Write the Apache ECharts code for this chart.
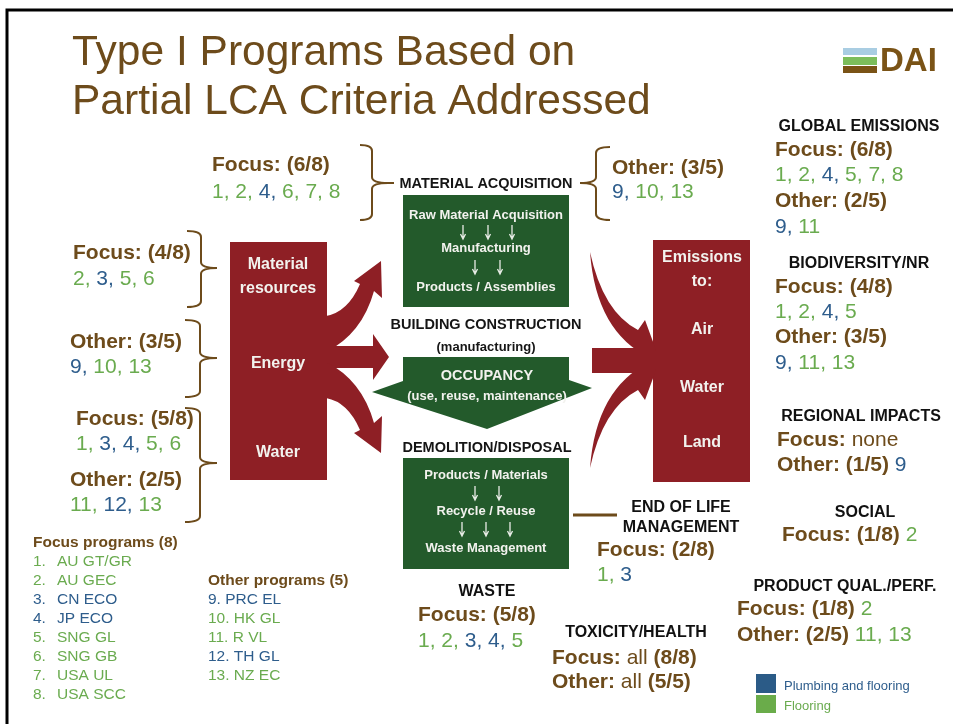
<!DOCTYPE html>
<html>
<head>
<meta charset="utf-8">
<script src="https://cdn.jsdelivr.net/npm/echarts/dist/echarts.min.js"></script>
<style>
html,body{margin:0;padding:0;background:#fff;}
#chart{width:953px;height:724px;}
</style>
</head>
<body>
<div id="chart"></div>
<script>
// ---------------- DATA ----------------
const titleLines = ['Type I Programs Based on', 'Partial LCA Criteria Addressed'];
const focusPrograms = ['AU GT/GR', 'AU GEC', 'CN ECO', 'JP ECO', 'SNG GL', 'SNG GB', 'USA UL', 'USA SCC'];
const otherPrograms = ['PRC EL', 'HK GL', 'R VL', 'TH GL', 'NZ EC'];
const plumbingIds = [3, 4, 9, 12];            // "Plumbing and flooring"; all others "Flooring"
const legendLabels = ['Plumbing and flooring', 'Flooring'];
const nFocus = focusPrograms.length;        // 8
const nOther = otherPrograms.length;        // 5

const materialAcqFocus = [1, 2, 4, 6, 7, 8];
const materialAcqOther = [9, 10, 13];
const resourcesFocus = [2, 3, 5, 6];
const energyOther = [9, 10, 13];
const waterFocus = [1, 3, 4, 5, 6];
const waterOther = [11, 12, 13];
const waterOtherCount = 2;                    // as printed on the slide: "Other: (2/5)"
const globalEmFocus = [1, 2, 4, 5, 7, 8];
const globalEmOther = [9, 11];
const biodivFocus = [1, 2, 4, 5];
const biodivOther = [9, 11, 13];
const regionalFocus = [];
const regionalOther = [9];
const endOfLifeFocus = [1, 3];
const socialFocus = [2];
const productFocus = [2];
const productOther = [11, 13];
const wasteFocus = [1, 2, 3, 4, 5];
const toxicityFocus = [1, 2, 3, 4, 5, 6, 7, 8];
const toxicityOther = [9, 10, 11, 12, 13];

const stage1Lines = ['Raw Material Acquisition', 'Manufacturing', 'Products / Assemblies'];
const stage3Lines = ['Products / Materials', 'Recycle / Reuse', 'Waste Management'];
const inputLabels = ['Material', 'resources', 'Energy', 'Water'];
const outputLabels = ['Emissions', 'to:', 'Air', 'Water', 'Land'];

// ---------------- STYLE ----------------
const FF = '"Liberation Sans", Arial, Helvetica, sans-serif';
const BROWN = '#6d4b1b';
const GREEN = '#6aab4f';
const BLUE = '#2e5d8c';
const RED = '#8e1f25';
const DKGREEN = '#235a2b';
const NUM = 21;

// simple path shape (M, L, Q, Z commands)
const SimplePath = echarts.graphic.extendShape({
  shape: {d: ''},
  buildPath: function (ctx, shape) {
    const tk = String(shape.d).match(/[MLQZ]|-?\d+(\.\d+)?/g) || [];
    let i = 0, cmd = null;
    while (i < tk.length) {
      const t = tk[i];
      if (/[MLQZ]/.test(t)) { cmd = t; i++; if (cmd === 'Z') { ctx.closePath(); } continue; }
      if (cmd === 'M') { ctx.moveTo(+tk[i], +tk[i + 1]); i += 2; cmd = 'L'; }
      else if (cmd === 'L') { ctx.lineTo(+tk[i], +tk[i + 1]); i += 2; }
      else if (cmd === 'Q') { ctx.quadraticCurveTo(+tk[i], +tk[i + 1], +tk[i + 2], +tk[i + 3]); i += 4; }
      else { i++; }
    }
  }
});
echarts.graphic.registerShape('simplePath', SimplePath);

const rich = {
  b: {fill: BROWN, fontWeight: 'bold', fontSize: NUM, fontFamily: FF},
  n: {fill: BROWN, fontWeight: 'normal', fontSize: NUM, fontFamily: FF},
  p: {fill: BLUE, fontSize: NUM, fontFamily: FF},
  f: {fill: GREEN, fontSize: NUM, fontFamily: FF}
};
function cls(id) { return plumbingIds.indexOf(id) >= 0 ? 'p' : 'f'; }
function idsRich(ids) {
  return ids.map((id, i) => '{' + cls(id) + '|' + id + (i < ids.length - 1 ? ',' : '') + '}').join(' ');
}
function countLabel(kind, ids, count) {
  const c = count == null ? ids.length : count;
  return '{b|' + kind + ': (' + c + '/' + (kind === 'Focus' ? nFocus : nOther) + ')}';
}

const g = [];
function txt(x, y, text, font, fill, align, extra) {
  const st = Object.assign({text: text, font: font, fill: fill, align: align || 'left', verticalAlign: 'middle',
    textAlign: align || 'left', textVerticalAlign: 'middle'}, extra || {});
  g.push({type: 'text', x: x, y: y, z: 10, style: st});
}
function richTxt(x, y, text) {
  g.push({type: 'text', x: x, y: y, z: 10, style: {text: text, rich: rich, font: NUM + 'px ' + FF, fill: BROWN,
    align: 'left', verticalAlign: 'middle', textAlign: 'left', textVerticalAlign: 'middle'}});
}
function rect(x, y, w, h, fill, z) { g.push({type: 'rect', z: z || 1, shape: {x: x, y: y, width: w, height: h}, style: {fill: fill}}); }
function path(d, style, z) { g.push({type: 'simplePath', z: z || 2, shape: {d: d}, style: style}); }
function brace(x0, xs, xt, y0, ym, y1) {
  const r = 6;
  const d = 'M' + x0 + ' ' + y0 + ' Q' + xs + ' ' + y0 + ' ' + xs + ' ' + (y0 + r) +
    ' L' + xs + ' ' + (ym - r) + ' Q' + xs + ' ' + ym + ' ' + xt + ' ' + ym +
    ' Q' + xs + ' ' + ym + ' ' + xs + ' ' + (ym + r) +
    ' L' + xs + ' ' + (y1 - r) + ' Q' + xs + ' ' + y1 + ' ' + x0 + ' ' + y1;
  path(d, {fill: null, stroke: BROWN, lineWidth: 2});
}
function downArrow(x, y) {
  path('M' + x + ' ' + (y - 7) + ' L' + x + ' ' + (y + 6) + ' M' + (x - 2.5) + ' ' + (y + 2) + ' L' + x + ' ' + (y + 7) + ' L' + (x + 2.5) + ' ' + (y + 2),
    {fill: null, stroke: '#e8ece6', lineWidth: 1.3}, 5);
}

// frame
g.push({type: 'polyline', z: 0, shape: {points: [[7, 724], [7, 10], [953, 10]]}, style: {stroke: '#000', lineWidth: 3, fill: null}});

// title
txt(72, 53, titleLines[0], '42.5px ' + FF, BROWN);
txt(72, 102, titleLines[1], '42.5px ' + FF, BROWN);

// DAI logo
rect(843, 48, 34, 7, '#a9cde2');
rect(843, 57, 34, 8, '#7cbd5b');
rect(843, 66, 34, 7, '#7a5316');
txt(880, 62, 'DAI', 'bold 33px ' + FF, '#7a5316', 'left', {});

// ----- centre diagram -----
rect(403, 195, 166, 112, DKGREEN);
rect(403, 458, 166, 111, DKGREEN);
path('M403 357 L569 357 L569 380 L592 388 L487 429 L372 392 L403 381 Z', {fill: DKGREEN});

const W = '#f2f2ee';
const sb = 'bold 13px ' + FF;
txt(486, 215, stage1Lines[0], sb, W, 'center');
txt(486, 248, stage1Lines[1], sb, W, 'center');
txt(486, 287, stage1Lines[2], sb, W, 'center');
[463, 488, 512].forEach(x => downArrow(x, 232));
[475, 500].forEach(x => downArrow(x, 267));
txt(486, 475, stage3Lines[0], sb, W, 'center');
txt(486, 511, stage3Lines[1], sb, W, 'center');
txt(486, 548, stage3Lines[2], sb, W, 'center');
[475, 499].forEach(x => downArrow(x, 493));
[462, 486, 510].forEach(x => downArrow(x, 529));
txt(487, 376, 'OCCUPANCY', 'bold 14.5px ' + FF, W, 'center');
txt(487, 396, '(use, reuse, maintenance)', sb, W, 'center');

const hb = 'bold 14.5px ' + FF;
txt(486, 184, 'MATERIAL ACQUISITION', hb, '#151515', 'center');
txt(486, 325, 'BUILDING CONSTRUCTION', hb, '#151515', 'center');
txt(486, 347, '(manufacturing)', 'bold 13px ' + FF, '#151515', 'center');
txt(487, 448, 'DEMOLITION/DISPOSAL', hb, '#151515', 'center');

// red input box + arrows
rect(230, 242, 97, 238, RED);
path('M326 316 Q348 312 360 284 L354 281 L381 261 L382 298 L374 291 Q362 334 326 352 Z', {fill: RED});
path('M326 346 L373 346 L373 334 L389 357 L373 380 L373 368 L326 368 Z', {fill: RED});
path('M326 398 Q348 402 360 430 L354 433 L381 453 L382 416 L374 423 Q362 380 326 362 Z', {fill: RED});
const rb = 'bold 16px ' + FF;
txt(278, 265, inputLabels[0], rb, W, 'center');
txt(278, 289, inputLabels[1], rb, W, 'center');
txt(278, 364, inputLabels[2], rb, W, 'center');
txt(278, 453, inputLabels[3], rb, W, 'center');

// red output box + arrows
rect(653, 240, 97, 242, RED);
path('M590 252 Q603 312 638 330 L645 320 L656 350 L650 358 Q596 332 590 252 Z', {fill: RED});
path('M590 468 Q603 408 638 390 L645 400 L656 370 L650 362 Q596 388 590 468 Z', {fill: RED});
path('M592 348 L654 348 L654 373 L592 373 Z', {fill: RED});
txt(702, 258, outputLabels[0], rb, W, 'center');
txt(702, 282, outputLabels[1], rb, W, 'center');
txt(702, 330, outputLabels[2], rb, W, 'center');
txt(702, 388, outputLabels[3], rb, W, 'center');
txt(702, 443, outputLabels[4], rb, W, 'center');

// braces & connector lines
brace(360, 372, 388, 145, 183, 220);
g.push({type: 'line', z: 2, shape: {x1: 386, y1: 183, x2: 394, y2: 183}, style: {stroke: BROWN, lineWidth: 2}});
brace(610, 596, 580, 147, 183, 220);
brace(187, 201, 217, 231, 268, 307);
brace(185, 200, 217, 320, 358, 397);
brace(185, 200, 217, 408, 463, 522);
g.push({type: 'line', z: 2, shape: {x1: 573, y1: 515, x2: 617, y2: 515}, style: {stroke: BROWN, lineWidth: 3}});

// ----- annotations -----
richTxt(212, 165, countLabel('Focus', materialAcqFocus));
richTxt(212, 192, idsRich(materialAcqFocus));
richTxt(612, 168, countLabel('Other', materialAcqOther));
richTxt(612, 192, idsRich(materialAcqOther));

richTxt(73, 253, countLabel('Focus', resourcesFocus));
richTxt(73, 279, idsRich(resourcesFocus));
richTxt(70, 342, countLabel('Other', energyOther));
richTxt(70, 367, idsRich(energyOther));
richTxt(76, 419, countLabel('Focus', waterFocus));
richTxt(76, 444, idsRich(waterFocus));
richTxt(70, 480, countLabel('Other', waterOther, waterOtherCount));
richTxt(70, 505, idsRich(waterOther));

const H = 'bold 16px ' + FF;
txt(859, 127, 'GLOBAL EMISSIONS', H, '#111', 'center');
richTxt(775, 150, countLabel('Focus', globalEmFocus));
richTxt(775, 175, idsRich(globalEmFocus));
richTxt(775, 201, countLabel('Other', globalEmOther));
richTxt(775, 227, idsRich(globalEmOther));

txt(859, 264, 'BIODIVERSITY/NR', H, '#111', 'center');
richTxt(775, 287, countLabel('Focus', biodivFocus));
richTxt(775, 312, idsRich(biodivFocus));
richTxt(775, 337, countLabel('Other', biodivOther));
richTxt(775, 363, idsRich(biodivOther));

txt(861, 417, 'REGIONAL IMPACTS', H, '#111', 'center');
richTxt(777, 440, '{b|Focus:} {n|' + (regionalFocus.length ? regionalFocus.join(', ') : 'none') + '}');
richTxt(777, 465, countLabel('Other', regionalOther) + ' ' + idsRich(regionalOther));

txt(681, 508, 'END OF LIFE', H, '#111', 'center');
txt(681, 528, 'MANAGEMENT', H, '#111', 'center');
richTxt(597, 550, countLabel('Focus', endOfLifeFocus));
richTxt(597, 575, idsRich(endOfLifeFocus));

txt(865, 513, 'SOCIAL', H, '#111', 'center');
richTxt(782, 535, countLabel('Focus', socialFocus) + ' ' + idsRich(socialFocus));

txt(845, 587, 'PRODUCT QUAL./PERF.', H, '#111', 'center');
richTxt(737, 609, countLabel('Focus', productFocus) + ' ' + idsRich(productFocus));
richTxt(737, 635, countLabel('Other', productOther) + ' ' + idsRich(productOther));

txt(487, 592, 'WASTE', H, '#111', 'center');
richTxt(418, 615, countLabel('Focus', wasteFocus));
richTxt(418, 641, idsRich(wasteFocus));

txt(636, 633, 'TOXICITY/HEALTH', H, '#111', 'center');
richTxt(552, 658, '{b|Focus:} {n|all} {b|(' + toxicityFocus.length + '/' + nFocus + ')}');
richTxt(552, 682, '{b|Other:} {n|all} {b|(' + toxicityOther.length + '/' + nOther + ')}');

// legend
rect(756, 674, 20, 19, '#2b5b87');
rect(756, 695, 20, 18, '#6aac4a');
txt(784, 686, legendLabels[0], '13px ' + FF, BLUE);
txt(784, 706, legendLabels[1], '13px ' + FF, GREEN);

// program lists
txt(33, 543, 'Focus programs (' + nFocus + ')', 'bold 15.5px ' + FF, BROWN);
focusPrograms.forEach((name, i) => {
  const id = i + 1, c = cls(id) === 'p' ? BLUE : GREEN;
  txt(33, 562 + 19 * i, id + '.', '15.5px ' + FF, c);
  txt(57, 562 + 19 * i, name, '15.5px ' + FF, c);
});
txt(208, 581, 'Other programs (' + nOther + ')', 'bold 15.5px ' + FF, BROWN);
otherPrograms.forEach((name, i) => {
  const id = nFocus + i + 1, c = cls(id) === 'p' ? BLUE : GREEN;
  txt(208, 600 + 19 * i, id + '. ' + name, '15.5px ' + FF, c);
});

const chart = echarts.init(document.getElementById('chart'), null, {renderer: 'canvas'});
chart.setOption({backgroundColor: '#fff', animation: false, graphic: {elements: g}});
</script>
</body>
</html>
